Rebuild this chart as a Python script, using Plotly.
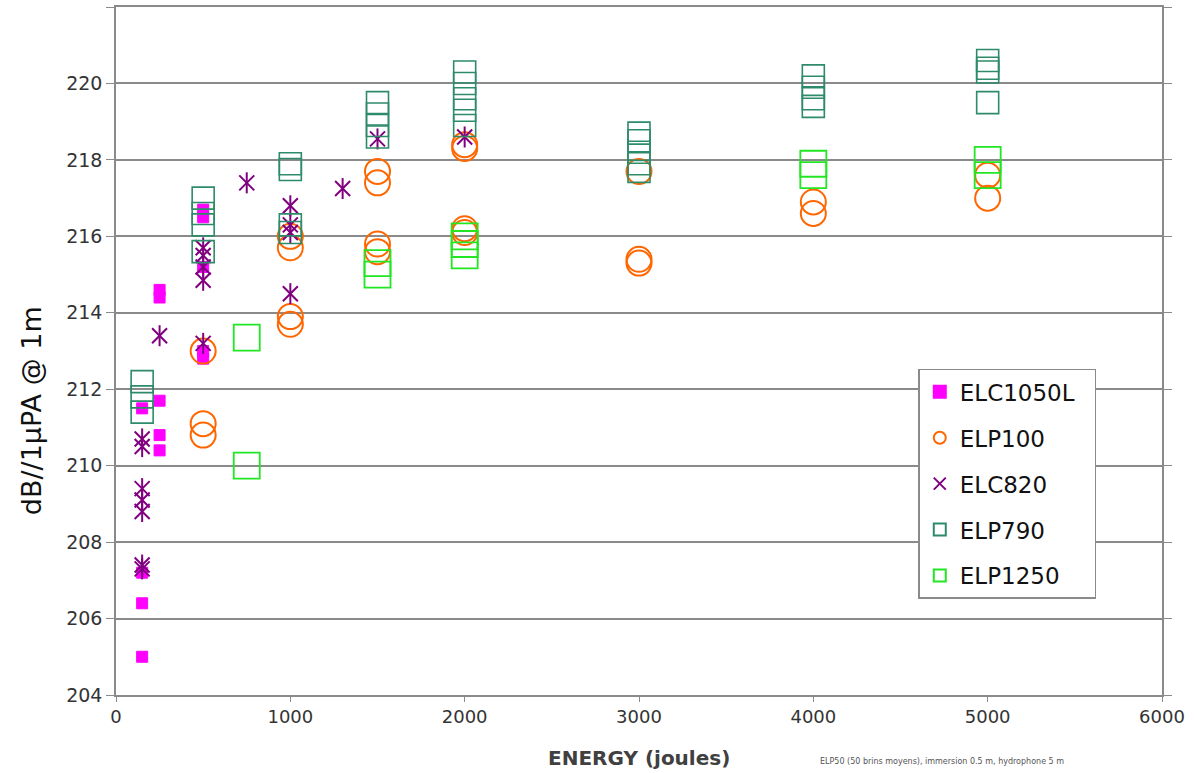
import plotly.graph_objects as go

# ---- data ----
elc1050l_x = [150, 150, 150, 150, 250, 250, 250, 250, 250, 500, 500, 500, 500, 500]
elc1050l_y = [205.0, 206.4, 207.2, 211.5, 214.6, 214.4, 211.7, 210.8, 210.4, 216.7, 216.5, 215.2, 213.0, 212.8]

elp100_x = [500, 500, 500, 1000, 1000, 1000, 1000, 1500, 1500, 1500, 1500,
            2000, 2000, 2000, 2000, 3000, 3000, 3000, 4000, 4000, 5000, 5000]
elp100_y = [213.0, 211.1, 210.8, 216.0, 215.7, 213.9, 213.7, 217.7, 217.4, 215.8, 215.6,
            218.4, 218.3, 216.2, 216.1, 217.7, 215.4, 215.3, 216.9, 216.6, 217.6, 217.0]

elc820_x = [150, 150, 150, 150, 150, 150, 150, 250, 500, 500, 500, 500, 500,
            750, 1000, 1000, 1000, 1000, 1300, 1500, 2000]
elc820_y = [210.7, 210.5, 209.4, 209.1, 208.8, 207.4, 207.3, 213.4, 215.7, 215.5, 215.2, 214.85, 213.2,
            217.4, 216.8, 216.3, 216.1, 214.5, 217.25, 218.55, 218.6]

elp790_x = [150, 150, 150, 500, 500, 500, 500, 1000, 1000, 1000, 1000,
            1500, 1500, 1500, 1500, 2000, 2000, 2000, 2000, 2000,
            3000, 3000, 3000, 3000, 3000, 4000, 4000, 4000, 4000, 5000, 5000, 5000, 5000]
elp790_y = [212.2, 211.8, 211.4, 217.0, 216.6, 216.3, 215.6, 217.9, 217.75, 216.3, 216.1,
            219.5, 219.2, 218.9, 218.6, 220.3, 220.0, 219.6, 219.3, 218.9,
            218.7, 218.5, 218.2, 217.9, 217.7, 220.2, 219.9, 219.6, 219.4, 220.6, 220.4, 220.3, 219.5]

elp1250_x = [750, 750, 1500, 1500, 2000, 2000, 2000, 4000, 4000, 5000, 5000]
elp1250_y = [213.35, 210.0, 215.3, 215.0, 216.0, 215.8, 215.5, 217.9, 217.6, 218.0, 217.6]

x_ticks = [0, 1000, 2000, 3000, 4000, 5000, 6000]
y_ticks = [204, 206, 208, 210, 212, 214, 216, 218, 220, 222]

FONT = "DejaVu Sans"
PAD = "\u00a0\u00a0"

fig = go.Figure()

fig.add_trace(go.Scatter(
    x=elc1050l_x, y=elc1050l_y, mode="markers", name="ELC1050L" + PAD, legendgroup="a",
    marker=dict(symbol="square", size=11, color="#FF00FF", line=dict(color="#FF00FF", width=1))))

fig.add_trace(go.Scatter(
    x=elp100_x, y=elp100_y, mode="markers", name="ELP100", legendgroup="b",
    marker=dict(symbol="circle-open", size=25, color="#FF6600", line=dict(color="#FF6600", width=2))))

fig.add_trace(go.Scatter(
    x=elc820_x, y=elc820_y, mode="markers", name="ELC820", legendgroup="c",
    marker=dict(symbol="x-thin-open", size=15, color="#800080", line=dict(color="#800080", width=2))))
fig.add_trace(go.Scatter(
    x=elc820_x, y=elc820_y, mode="markers", name="ELC820", legendgroup="c", showlegend=False,
    marker=dict(symbol="line-ns-open", size=15, color="#800080", line=dict(color="#800080", width=2))))

fig.add_trace(go.Scatter(
    x=elp790_x, y=elp790_y, mode="markers", name="ELP790", legendgroup="d",
    marker=dict(symbol="square-open", size=22, color="#2E8B6A", line=dict(color="#2E8B6A", width=1.6))))

fig.add_trace(go.Scatter(
    x=elp1250_x, y=elp1250_y, mode="markers", name="ELP1250", legendgroup="e",
    marker=dict(symbol="square-open", size=26, color="#22E622", line=dict(color="#22E622", width=1.8))))

fig.update_layout(
    width=1194, height=773,
    margin=dict(l=116, r=32, t=5, b=78),
    paper_bgcolor="white", plot_bgcolor="white",
    font=dict(family=FONT, color="#222222"),
    showlegend=True,
    legend=dict(
        x=0.767, y=0.474, xanchor="left", yanchor="top",
        bgcolor="white", bordercolor="#8a8a8a", borderwidth=1.5,
        font=dict(family=FONT, size=23, color="#111111"),
        tracegroupgap=13, traceorder="grouped", itemsizing="constant",
    ),
    xaxis=dict(
        range=[0, 6000], tickvals=x_ticks, ticktext=[str(v) for v in x_ticks],
        showgrid=False, zeroline=False,
        showline=True, linecolor="#8a8a8a", linewidth=1.5, mirror=True,
        ticks="outside", ticklen=5, tickcolor="#8a8a8a",
        tickfont=dict(family=FONT, size=18, color="#333333"),
    ),
    yaxis=dict(
        range=[204, 222.001], tickvals=y_ticks, ticktext=[str(v) for v in y_ticks],
        showgrid=True, gridcolor="#8a8a8a", gridwidth=1.5, zeroline=False,
        showline=True, linecolor="#8a8a8a", linewidth=1.5, mirror="ticks",
        ticks="outside", ticklen=8, tickcolor="#8a8a8a",
        tickfont=dict(family=FONT, size=19, color="#333333"),
    ),
    annotations=[
        dict(text="dB//1µPA @ 1m", xref="paper", yref="paper", x=-0.080, y=0.413,
             textangle=-90, showarrow=False, xanchor="center", yanchor="middle",
             font=dict(family=FONT, size=27, color="#111111")),
        dict(text="<b>ENERGY (joules)</b>", xref="paper", yref="paper", x=0.5, y=-0.091,
             showarrow=False, xanchor="center", yanchor="middle",
             font=dict(family=FONT, size=20, color="#404040")),
        dict(text="ELP50 (50 brins moyens), immersion 0.5 m, hydrophone 5 m",
             xref="paper", yref="paper", x=0.671, y=-0.097, showarrow=False,
             xanchor="left", yanchor="middle",
             font=dict(family=FONT, size=8, color="#555555")),
    ],
)

fig.write_html("out.html", config={"displayModeBar": False},
               post_script="document.body.style.margin='0';")
